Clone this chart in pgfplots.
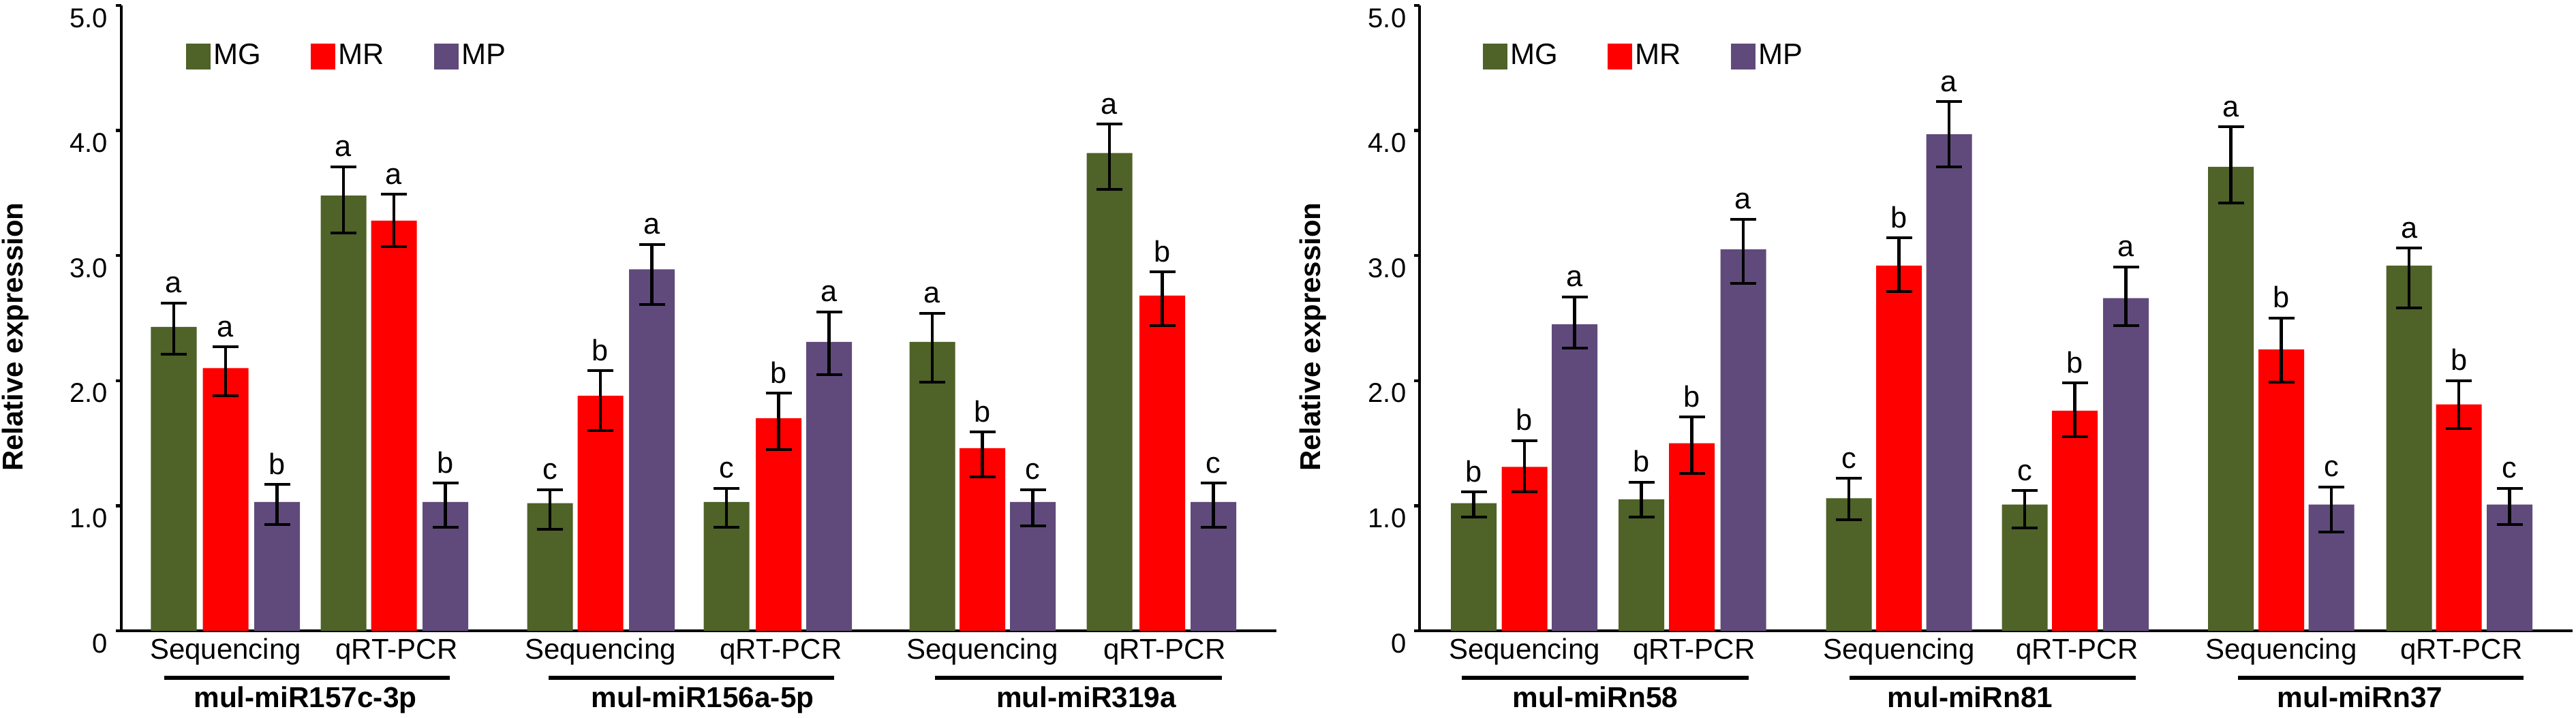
\documentclass[border=0pt]{standalone}
\usepackage{pgfplots}
\pgfplotsset{compat=1.18}
\usepackage{pgfplotstable}
\usepackage{fontspec}
\setmainfont{Liberation Sans}
\definecolor{mg}{HTML}{4F6228}
\definecolor{mr}{HTML}{FF0000}
\definecolor{mp}{HTML}{604A7B}

\pgfplotstableread{
x y ep em l
255 2.43 0.19 0.22 a
504 3.48 0.23 0.30 a
807 1.02 0.11 0.21 c
1066 1.03 0.11 0.20 c
1368 2.31 0.23 0.32 a
1628 3.82 0.23 0.29 a
}\LMG
\pgfplotstableread{
x y ep em l
331 2.10 0.17 0.22 a
578 3.28 0.21 0.21 a
881 1.88 0.20 0.28 b
1142.5 1.70 0.20 0.25 b
1441.5 1.46 0.13 0.23 b
1705.5 2.68 0.19 0.24 b
}\LMR
\pgfplotstableread{
x y ep em l
406.5 1.03 0.14 0.18 b
653.5 1.03 0.15 0.20 b
956.5 2.89 0.20 0.28 a
1216.5 2.31 0.24 0.26 a
1515.5 1.03 0.10 0.19 c
1780.5 1.03 0.15 0.20 c
}\LMP
\pgfplotstableread{
x y ep em l
2162.5 1.02 0.09 0.11 b
2408.5 1.05 0.14 0.14 b
2713 1.06 0.16 0.17 c
2971 1.01 0.11 0.19 c
3273.5 3.71 0.32 0.29 a
3535 2.92 0.14 0.34 a
}\RMG
\pgfplotstableread{
x y ep em l
2237 1.31 0.21 0.20 b
2482.5 1.50 0.21 0.24 b
2786.5 2.92 0.22 0.21 b
3044.5 1.76 0.22 0.21 b
3347.5 2.25 0.25 0.26 b
3608 1.81 0.19 0.19 b
}\RMR
\pgfplotstableread{
x y ep em l
2310.5 2.45 0.22 0.19 a
2558 3.05 0.24 0.27 a
2860 3.97 0.26 0.26 a
3119.5 2.66 0.25 0.22 a
3421 1.01 0.14 0.22 c
3682.5 1.01 0.13 0.16 c
}\RMP

\tikzset{
  xlab/.style={anchor=base, yshift=-12.3pt, font=\fontsize{12.6}{14}\selectfont},
  glab/.style={anchor=base, yshift=-33.6pt, font=\bfseries\fontsize{12.7}{14}\selectfont},
  gline/.style={line width=1.7pt, black},
}
\pgfplotsset{
  panel/.style={
    x=0.3pt, y=55.08pt, ymin=0, ymax=5, anchor=south west, clip=false,
    axis x line=bottom, axis y line=left,
    axis line style={-, line width=1.35pt, black},
    xtick=\empty, ytick={0,1,2,3,4,5}, yticklabels={0,1.0,2.0,3.0,4.0,5.0},
    tick align=outside, major tick length=2.4pt,
    ytick style={line width=1.35pt, black},
    yticklabel style={font=\fontsize{12}{14}\selectfont, yshift=-5.5pt},
    /pgf/number format/assume math mode=true,
    ylabel={Relative expression},
    legend columns=3,
    legend style={draw=none, fill=none, inner sep=0pt, anchor=west,
      font=\fontsize{13}{15}\selectfont, nodes={inner sep=0pt},
      /tikz/every odd column/.append style={column sep=1.5pt},
      /tikz/every even column/.append style={column sep=21.7pt}},
  },
  mybar/.style={ybar, bar width=67, bar shift=0pt, draw=none, fill=#1,
    legend image code/.code={\fill[#1] (0pt,-6.15pt) rectangle (10.8pt,5.25pt);},
    error bars/y dir=both, error bars/y explicit,
    error bars/error bar style={line width=1.4pt, draw=black},
    error bars/error mark options={rotate=90, line width=1.2pt, mark size=5.7pt, draw=black}},
  letters/.style={only marks, mark=*, mark size=0pt, mark options={draw=none,fill=none},
    forget plot, nodes near coords, point meta=explicit symbolic,
    nodes near coords style={anchor=base, inner sep=0pt, yshift=4.5pt,
      font=\fontsize{13}{15}\selectfont, text=black}},
}

\begin{document}
\begin{tikzpicture}
\useasboundingbox (0,0) rectangle (1134pt,315.9pt);

% ---------------- left panel ----------------
\begin{axis}[panel, at={(53.4pt,38.1pt)}, xmin=178, xmax=1873,
  every axis y label/.style={at={(axis description cs:-0.0915,0.47)}, rotate=90, anchor=center, font=\bfseries\fontsize{12.6}{15}\selectfont},
  legend style={at={(axis description cs:0.0555,0.918)}}]
\addplot[mybar=mg] table[x=x,y=y,y error plus=ep,y error minus=em] \LMG;
\addlegendentry{MG}
\addplot[mybar=mr] table[x=x,y=y,y error plus=ep,y error minus=em] \LMR;
\addlegendentry{MR}
\addplot[mybar=mp] table[x=x,y=y,y error plus=ep,y error minus=em] \LMP;
\addlegendentry{MP}
\addplot[letters] table[x=x, y expr=\thisrow{y}+\thisrow{ep}, meta=l] \LMG;
\addplot[letters] table[x=x, y expr=\thisrow{y}+\thisrow{ep}, meta=l] \LMR;
\addplot[letters] table[x=x, y expr=\thisrow{y}+\thisrow{ep}, meta=l] \LMP;
\node[xlab] at (axis cs:331,0) {Sequencing};
\node[xlab] at (axis cs:582,0) {qRT-PCR};
\node[xlab] at (axis cs:881,0) {Sequencing};
\node[xlab] at (axis cs:1146,0) {qRT-PCR};
\node[xlab] at (axis cs:1441.5,0) {Sequencing};
\node[xlab] at (axis cs:1709,0) {qRT-PCR};
\draw[gline] (axis cs:241,-0.3758) -- (axis cs:660,-0.3758);
\draw[gline] (axis cs:805,-0.3758) -- (axis cs:1224,-0.3758);
\draw[gline] (axis cs:1372,-0.3758) -- (axis cs:1793,-0.3758);
\node[glab] at (axis cs:448,0) {mul-miR157c-3p};
\node[glab] at (axis cs:1031,0) {mul-miR156a-5p};
\node[glab] at (axis cs:1594,0) {mul-miR319a};
\end{axis}

% ---------------- right panel ----------------
\begin{axis}[panel, at={(624.9pt,38.1pt)}, xmin=2083, xmax=3775,
  every axis y label/.style={at={(axis description cs:-0.0922,0.47)}, rotate=90, anchor=center, font=\bfseries\fontsize{12.6}{15}\selectfont},
  legend style={at={(axis description cs:0.0544,0.918)}}]
\addplot[mybar=mg] table[x=x,y=y,y error plus=ep,y error minus=em] \RMG;
\addlegendentry{MG}
\addplot[mybar=mr] table[x=x,y=y,y error plus=ep,y error minus=em] \RMR;
\addlegendentry{MR}
\addplot[mybar=mp] table[x=x,y=y,y error plus=ep,y error minus=em] \RMP;
\addlegendentry{MP}
\addplot[letters] table[x=x, y expr=\thisrow{y}+\thisrow{ep}, meta=l] \RMG;
\addplot[letters] table[x=x, y expr=\thisrow{y}+\thisrow{ep}, meta=l] \RMR;
\addplot[letters] table[x=x, y expr=\thisrow{y}+\thisrow{ep}, meta=l] \RMP;
\node[xlab] at (axis cs:2237,0) {Sequencing};
\node[xlab] at (axis cs:2486,0) {qRT-PCR};
\node[xlab] at (axis cs:2786.5,0) {Sequencing};
\node[xlab] at (axis cs:3048,0) {qRT-PCR};
\node[xlab] at (axis cs:3347.5,0) {Sequencing};
\node[xlab] at (axis cs:3612,0) {qRT-PCR};
\draw[gline] (axis cs:2145,-0.3758) -- (axis cs:2566,-0.3758);
\draw[gline] (axis cs:2714,-0.3758) -- (axis cs:3134,-0.3758);
\draw[gline] (axis cs:3284,-0.3758) -- (axis cs:3703,-0.3758);
\node[glab] at (axis cs:2341,0) {mul-miRn58};
\node[glab] at (axis cs:2891,0) {mul-miRn81};
\node[glab] at (axis cs:3463,0) {mul-miRn37};
\end{axis}
\end{tikzpicture}
\end{document}
